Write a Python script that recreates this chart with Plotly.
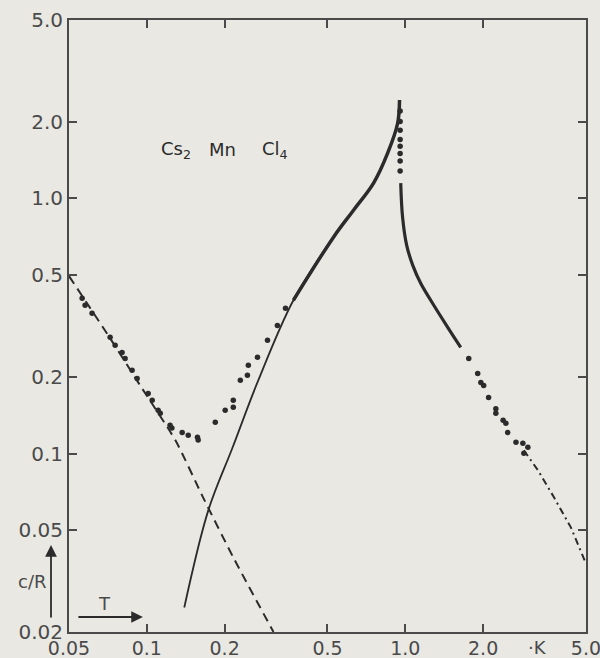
import plotly.graph_objects as go

# ---------------- data ----------------
# dashed low-temperature curve
dash_T = [0.05, 0.0721, 0.0942, 0.129, 0.165, 0.216, 0.309]
dash_c = [0.496, 0.283, 0.185, 0.1127, 0.0674, 0.0392, 0.02]

# solid rising curve up to the peak
rise_T = [0.1396, 0.1729, 0.2141, 0.2701, 0.369, 0.5275, 0.6305, 0.7537, 0.8544, 0.934, 0.95]
rise_c = [0.02495, 0.0599, 0.1049, 0.194, 0.399, 0.705, 0.899, 1.148, 1.504, 1.97, 2.43]

# solid falling curve above the peak
fall_T = [0.960, 0.976, 1.012, 1.068, 1.147, 1.254, 1.459, 1.638]
fall_c = [1.148, 0.844, 0.656, 0.548, 0.465, 0.399, 0.3126, 0.261]

# dash-dot high-temperature tail
tail_T = [2.875, 3.26, 3.76, 4.37, 5.0]
tail_c = [0.103, 0.086, 0.0674, 0.0514, 0.0371]

# measured points, low-temperature branch
low_T = [0.0562, 0.0577, 0.0614, 0.0721, 0.0754, 0.0802, 0.0824, 0.0877, 0.0917, 0.1012,
         0.1049, 0.1106, 0.1127, 0.123, 0.125, 0.137, 0.1446, 0.157, 0.158]
low_c = [0.406, 0.381, 0.355, 0.286, 0.266, 0.249, 0.236, 0.212, 0.197, 0.172,
         0.162, 0.148, 0.144, 0.129, 0.126, 0.121, 0.118, 0.116, 0.113]

# measured points, rising branch
mid_T = [0.184, 0.201, 0.216, 0.216, 0.230, 0.245, 0.247, 0.268, 0.293, 0.320, 0.344]
mid_c = [0.1326, 0.148, 0.162, 0.152, 0.194, 0.203, 0.222, 0.2385, 0.278, 0.318, 0.371]

# measured points just above the peak
peak_T = [0.955, 0.955, 0.955, 0.955, 0.955, 0.955, 0.955, 0.955]
peak_c = [2.2, 2.0, 1.85, 1.7, 1.6, 1.5, 1.4, 1.28]

# measured points, high-temperature branch
high_T = [1.76, 1.906, 1.96, 2.01, 2.10, 2.24, 2.24, 2.39, 2.45, 2.49, 2.68, 2.85, 2.98, 2.875]
high_c = [0.236, 0.206, 0.190, 0.185, 0.166, 0.150, 0.144, 0.135, 0.1315, 0.121, 0.1107, 0.1097, 0.1058, 0.1002]

x_ticks = [0.05, 0.1, 0.2, 0.5, 1.0, 2.0, 5.0]
x_ticktext = ["0.05", "0.1", "0.2", "0.5", "1.0", "2.0", "5.0"]
y_ticks = [0.02, 0.05, 0.1, 0.2, 0.5, 1.0, 2.0, 5.0]
y_ticktext = ["0.02", "0.05", "0.1", "0.2", "0.5", "1.0", "2.0", "5.0"]

# ---------------- style ----------------
bg = "#e9e8e3"
ink = "#2b2b2b"
axis_col = "#4a4a4a"
txt_col = "#4a4a4a"
font_family = "DejaVu Sans"

fig = go.Figure()

fig.add_trace(go.Scatter(x=dash_T, y=dash_c, mode="lines",
                         line=dict(color=ink, width=2, dash="9px,6px", shape="spline", smoothing=0.6),
                         hoverinfo="skip"))
fig.add_trace(go.Scatter(x=rise_T, y=rise_c, mode="lines",
                         line=dict(color=ink, width=1.8, shape="spline", smoothing=1.0),
                         hoverinfo="skip"))
fig.add_trace(go.Scatter(x=rise_T[4:], y=rise_c[4:], mode="lines",
                         line=dict(color=ink, width=3.5, shape="spline", smoothing=1.0),
                         hoverinfo="skip"))
fig.add_trace(go.Scatter(x=fall_T, y=fall_c, mode="lines",
                         line=dict(color=ink, width=3.2, shape="spline", smoothing=1.0),
                         hoverinfo="skip"))
fig.add_trace(go.Scatter(x=tail_T, y=tail_c, mode="lines",
                         line=dict(color=ink, width=2, dash="7px,4px,2px,4px"),
                         hoverinfo="skip"))

for xs, ys in [(low_T, low_c), (mid_T, mid_c), (peak_T, peak_c), (high_T, high_c)]:
    fig.add_trace(go.Scatter(x=xs, y=ys, mode="markers",
                             marker=dict(color=ink, size=5.5, line=dict(width=0)),
                             hoverinfo="skip"))

axis_common = dict(type="log", showgrid=False, zeroline=False, showline=True,
                   linecolor=axis_col, linewidth=2, mirror="ticks", ticks="inside",
                   ticklen=8, tickwidth=1.6, tickcolor=axis_col, automargin=False,
                   ticklabeloverflow="allow")

fig.update_layout(
    width=600, height=658,
    margin=dict(l=69, r=14, t=20, b=26),
    paper_bgcolor=bg, plot_bgcolor=bg,
    showlegend=False,
    xaxis=dict(range=[-1.3011, 0.6991], tickvals=x_ticks, ticktext=x_ticktext,
               ticklabelstandoff=-2,
               tickfont=dict(family=font_family, size=19, color=txt_col), **axis_common),
    yaxis=dict(range=[-1.6991, 0.6991], tickvals=y_ticks, ticktext=y_ticktext,
               tickfont=dict(family=font_family, size=20, color=txt_col), **axis_common),
)

comp_font = dict(family=font_family, size=18, color=ink)
ann = [
    dict(text="Cs<sub>2</sub>", x=0.174, y=0.788, xanchor="left", yanchor="middle"),
    dict(text="Mn", x=0.266, y=0.788, xanchor="left", yanchor="middle"),
    dict(text="Cl<sub>4</sub>", x=0.369, y=0.788, xanchor="left", yanchor="middle"),
]
for a in ann:
    fig.add_annotation(xref="paper", yref="paper", showarrow=False, font=comp_font, **a)

lab_font = dict(family=font_family, size=18, color=txt_col)
# c/R label with upward arrow
fig.add_annotation(xref="paper", yref="paper", x=-0.072, y=0.082, text="c/R",
                   showarrow=False, font=lab_font, xanchor="center", yanchor="middle")
fig.add_annotation(xref="paper", yref="paper", x=-0.0348, y=0.142, ax=0, ay=74,
                   text="", showarrow=True, arrowhead=2, arrowsize=1.3, arrowwidth=1.8,
                   arrowcolor=ink)
# T label with rightward arrow
fig.add_annotation(xref="paper", yref="paper", x=0.0696, y=0.047, text="T",
                   showarrow=False, font=lab_font, xanchor="center", yanchor="middle")
fig.add_annotation(xref="paper", yref="paper", x=0.143, y=0.0245, ax=-66, ay=0,
                   text="", showarrow=True, arrowhead=2, arrowsize=1.3, arrowwidth=1.8,
                   arrowcolor=ink)
# unit
fig.add_annotation(xref="paper", yref="paper", x=0.907, y=-0.026, text="·K",
                   showarrow=False, font=dict(family=font_family, size=18, color=txt_col),
                   xanchor="center", yanchor="middle")

fig.write_html("out.html")
